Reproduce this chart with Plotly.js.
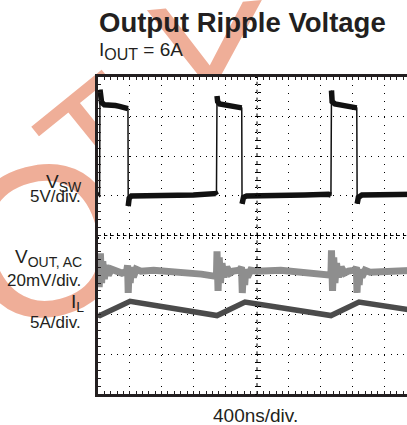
<!DOCTYPE html>
<html><head><meta charset="utf-8">
<script src="https://cdn.plot.ly/plotly-3.0.1.min.js"></script>
<style>
html,body{margin:0;padding:0;overflow:hidden;background:#fff;width:407px;height:425px}
#wm{position:absolute;left:0;top:0;width:407px;height:425px;overflow:hidden;z-index:0}
#wm div{position:absolute;font-family:Arial,"Liberation Sans",sans-serif;color:#efae98;line-height:1;text-align:center;width:300px}
#c{position:absolute;left:0;top:0;width:430px;height:425px;z-index:1}
</style>
</head><body>
<div id="wm"></div>
<div id="c"></div><script>
// time base: 400 ns/div, 10 div
const vswT  = [0,20,25,32,45,80,120,170,220,270,320,365,377,380,392,420,600,900,1200,1480,1490,1497,1505,1530,1600,1700,1790,1808,1812,1830,1870,2200,2600,2900,2930,2937,2945,2980,3050,3150,3240,3255,3260,3275,3320,3600,4000];
const vswV  = [0.1,0.2,13.4,12.0,11.8,11.5,11.5,11.4,11.4,11.3,11.2,11.1,11.0,-1.3,-0.3,0.0,0.0,0.1,0.1,0.3,0.1,12.6,11.9,11.6,11.5,11.4,11.2,11.1,-1.0,-0.2,0.0,0.0,0.1,0.2,0.1,13.3,11.9,11.6,11.5,11.4,11.2,11.1,-1.0,-0.2,0.1,0.1,0.2];

const voutT  = [0,15,30,45,60,80,100,130,170,220,300,360,372,380,392,405,420,445,480,540,700,900,1100,1300,1460,1490,1497,1510,1525,1540,1560,1585,1620,1660,1700,1780,1805,1815,1830,1845,1860,1880,1920,2000,2300,2541,2793,2918,2930,2937,2950,2965,2980,3000,3025,3060,3100,3150,3230,3250,3258,3270,3285,3300,3320,3360,3422,3600,3800,4000];
const voutMV = [6,-8,9,-6,5,-4,3,-2,1,0,-1,0,3,-11,1,-6,2,-3,1,0,0.5,0,-1,-1.5,-2.5,-2.5,10,-10,7,-6,4,-3,2,-1,0,0.5,2,-11,1,-7,1,-3,0.5,0,0.5,-0.5,-1.5,-2,-2,10.5,-10,7,-6,4,-3,2,-1,0,0.5,2,-11,1,-7,1,-3,0.5,-0.5,0,0.5,0.5];

const ilT = [0,25,403,1497,1849,2931,3283,4000];
const ilA = [5.0,4.9,6.7,4.9,6.6,4.9,6.6,5.5];

const xRange = [0,4000];      // ns
const vswRange = [-25,15];    // V, 5 V/div
const voutRange = [-62,98];   // mV, 20 mV/div
const ilRange = [-5,35];      // A, 5 A/div

// watermark letters (decorative stamp behind the plot)
const wmLetters = ['O','T','Y'];
const wmStyle = [
  {cx:45, cy:240, size:215, rot:-15},
  {cx:101, cy:141, size:160, rot:-39},
  {cx:210, cy:68, size:185, rot:-5}
];
const wm = document.getElementById('wm');
wmLetters.forEach((ch,i)=>{
  const s=wmStyle[i], d=document.createElement('div');
  d.textContent=ch;
  d.style.fontSize=s.size+'px';
  d.style.height=s.size+'px';
  d.style.left=(s.cx-150)+'px';
  d.style.top=(s.cy-s.size/2)+'px';
  d.style.transform='rotate('+s.rot+'deg)';
  wm.appendChild(d);
});

// thick band for the noisy flat parts of V_SW, broken at the switching edges
const bandT=[], bandV=[];
vswT.forEach((t,i)=>{
  bandT.push(t); bandV.push(vswV[i]);
  if(i<vswT.length-1 && Math.abs(vswV[i+1]-vswV[i])>5){bandT.push(null); bandV.push(null);}
});

const traces = [
  {x:voutT, y:voutMV, yaxis:'y2', mode:'lines', line:{color:'#8e8e8e', width:7}, hoverinfo:'skip'},
  {x:ilT, y:ilA, yaxis:'y3', mode:'lines', line:{color:'#4b4b4b', width:5.5}, hoverinfo:'skip'},
  {x:vswT, y:vswV, mode:'lines', line:{color:'#111', width:1.5}, hoverinfo:'skip'},
  {x:bandT, y:bandV, mode:'lines', connectgaps:false, line:{color:'#111', width:5.5}, hoverinfo:'skip'},
  {x:[], y:[], xaxis:'x2', mode:'lines', hoverinfo:'skip'},
  {x:[], y:[], xaxis:'x3', mode:'lines', hoverinfo:'skip'},
  {x:[], y:[], yaxis:'y4', mode:'lines', hoverinfo:'skip'},
  {x:[], y:[], yaxis:'y5', mode:'lines', hoverinfo:'skip'}
];

const W=318, H=317, L=98, T=77;
const px = v => (v-L)/W, py = v => (T+H-v)/H;
const lab = (text,x,y,size,extra) => Object.assign({text:text, xref:'paper', yref:'paper', x:px(x), y:py(y), xanchor:'right', yanchor:'middle', showarrow:false, font:{size:size, color:'#231f20'}}, extra||{});

const tickAx = (side) => ({overlaying:'x', anchor:'free', position:0.5, range:xRange, showgrid:false, zeroline:false, showline:false, showticklabels:false, ticks:side, dtick:80, tick0:0, ticklen:2.5, tickcolor:'#000', tickwidth:1});
const tickAy = (side) => ({overlaying:'y', anchor:'free', position:0.5, range:vswRange, showgrid:false, zeroline:false, showline:false, showticklabels:false, ticks:side, dtick:1, tick0:0, ticklen:2.5, tickcolor:'#000', tickwidth:1});

const sub = (s,sz) => '<sub><span style="font-size:'+sz+'px">'+s+'</span></sub>';

const layout = {
  width:430, height:425,
  margin:{l:L, r:430-L-W, t:T, b:425-T-H, pad:0},
  paper_bgcolor:'rgba(0,0,0,0)', plot_bgcolor:'#fff', showlegend:false,
  font:{family:'Arial, "Liberation Sans", sans-serif', color:'#231f20'},
  xaxis:{range:xRange, dtick:400, tick0:0, showgrid:true, gridcolor:'#000', gridwidth:1, griddash:'1px,6.93px',
         ticks:'inside', ticklen:3, tickcolor:'#231f20', tickwidth:1, showticklabels:false, showline:true, linewidth:3, linecolor:'#231f20', mirror:'allticks', zeroline:false,
         minor:{ticks:'inside', dtick:80, tick0:0, ticklen:3, tickcolor:'#231f20', tickwidth:1, showgrid:false}},
  yaxis:{range:vswRange, dtick:5, tick0:0, showgrid:true, gridcolor:'#000', gridwidth:1, griddash:'1px,5.36px',
         ticks:'inside', ticklen:3, tickcolor:'#231f20', tickwidth:1, showticklabels:false, showline:true, linewidth:3, linecolor:'#231f20', mirror:'allticks', zeroline:false,
         minor:{ticks:'inside', dtick:1, tick0:0, ticklen:3, tickcolor:'#231f20', tickwidth:1, showgrid:false}},
  yaxis2:{overlaying:'y', range:voutRange, visible:false},
  yaxis3:{overlaying:'y', range:ilRange, visible:false},
  xaxis2:tickAx('inside'), xaxis3:tickAx('outside'),
  yaxis4:tickAy('inside'), yaxis5:tickAy('outside'),
  shapes:[
    {type:'line', xref:'paper', yref:'paper', x0:0, x1:1, y0:0.5, y1:0.5, layer:'below', line:{color:'#000', width:1, dash:'3px,3.36px'}},
    {type:'line', xref:'paper', yref:'paper', x0:0.5, x1:0.5, y0:0, y1:1, layer:'below', line:{color:'#000', width:1, dash:'3px,4.93px'}}
  ],
  annotations:[
    lab('<b>Output Ripple Voltage</b>', 97, 23, 27.5, {xanchor:'left', font:{size:27.5, color:'#231f20'}}),
    lab('I'+sub('OUT',16)+' = 6A', 97, 51, 19, {xanchor:'left'}),
    lab('V'+sub('SW',14), 84, 183, 19),
    lab('5V/div.', 83, 196, 17),
    lab('V'+sub('OUT, AC',14), 84, 258, 19),
    lab('20mV/div.', 83, 280, 17),
    lab('I'+sub('L',14), 86, 303, 19),
    lab('5A/div.', 83, 322, 17),
    lab('400ns/div.', 255, 415, 19, {xanchor:'center'})
  ]
};
Plotly.newPlot('c', traces, layout, {staticPlot:true, displayModeBar:false});
</script></body></html>
